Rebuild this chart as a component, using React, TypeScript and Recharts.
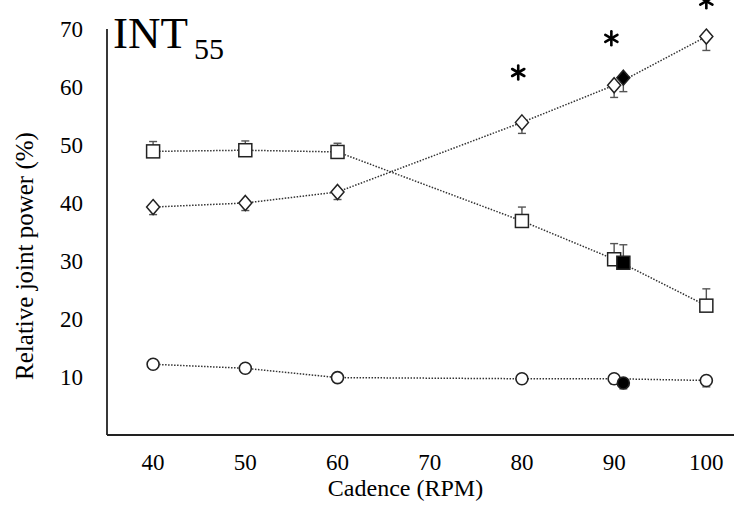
import { ErrorBar, Line, LineChart, ReferenceDot, XAxis, YAxis } from 'recharts';

const cadence = [40, 50, 60, 80, 90, 100];
const squareValues = [48.9, 49.1, 48.8, 36.9, 30.3, 22.3];
const squareErr = [1.7, 1.6, 1.5, 2.4, 2.7, 2.9];
const diamondValues = [39.3, 40.0, 41.9, 53.9, 60.3, 68.7];
const diamondErr = [1.3, 1.3, 1.3, 1.9, 2.1, 2.4];
const circleValues = [12.2, 11.5, 9.9, 9.7, 9.7, 9.4];
const circleErr = [0.8, 0.8, 0.8, 0.8, 0.9, 1.1];

// filled markers (second condition), all at 91 rpm
const filledCadence = 91;
const filledSquare = { value: 29.7, err: 3.1 };
const filledDiamond = { value: 61.6, err: 2.4 };
const filledCircle = { value: 8.96, err: 1.0 };

// significance marks
const starCadence = [79.6, 89.7, 100];
const starValues = [62.5, 68.4, 74.8];

const xTicks = [40, 50, 60, 70, 80, 90, 100];
const yTicks = [10, 20, 30, 40, 50, 60, 70];

const FONT = '"Liberation Serif", "Times New Roman", serif';
const INK = '#222';
const serif = { fontFamily: FONT };

const rows = (values: number[], errs: number[], up: boolean) =>
  cadence.map((c, i) => ({
    cadence: c,
    value: values[i],
    err: up ? [0, errs[i]] : [errs[i], 0],
  }));

const single = (p: { value: number; err: number }, up: boolean) => [
  { cadence: filledCadence, value: p.value, err: up ? [0, p.err] : [p.err, 0] },
];

const squareData = rows(squareValues, squareErr, true);
const diamondData = rows(diamondValues, diamondErr, false);
const circleData = rows(circleValues, circleErr, false);

const squareDot = (fill: string) => (p: any) => (
  <rect
    key={`sq-${fill}-${p.index}`}
    x={p.cx - 6.5}
    y={p.cy - 6.5}
    width={13}
    height={13}
    fill={fill}
    stroke={INK}
    strokeWidth={1.5}
  />
);

const diamondDot = (fill: string) => (p: any) => (
  <polygon
    key={`di-${fill}-${p.index}`}
    points={`${p.cx},${p.cy - 7.5} ${p.cx + 6.5},${p.cy} ${p.cx},${p.cy + 7.5} ${p.cx - 6.5},${p.cy}`}
    fill={fill}
    stroke={INK}
    strokeWidth={1.5}
  />
);

const circleDot = (fill: string) => (p: any) => (
  <circle key={`ci-${fill}-${p.index}`} cx={p.cx} cy={p.cy} r={6} fill={fill} stroke={INK} strokeWidth={1.6} />
);

const Star = (p: any) => {
  const r = 7;
  const arms = [90, 30, 150].map((a) => {
    const t = (a * Math.PI) / 180;
    return (
      <line
        key={a}
        x1={p.cx - r * Math.cos(t)}
        y1={p.cy - r * Math.sin(t)}
        x2={p.cx + r * Math.cos(t)}
        y2={p.cy + r * Math.sin(t)}
        stroke="#000"
        strokeWidth={2.6}
        strokeLinecap="round"
      />
    );
  });
  return <g>{arms}</g>;
};

const XTick = ({ x, y, payload }: any) => (
  <text x={x} y={y} dy={15.5} textAnchor="middle" fill="#000" style={{ ...serif, fontSize: 23 }}>
    {payload.value}
  </text>
);

const YTick = ({ x, y, payload }: any) => (
  <text x={x} y={y} dy={8} textAnchor="end" fill="#000" style={{ ...serif, fontSize: 23 }}>
    {payload.value}
  </text>
);

const YTitle = ({ viewBox }: any) => {
  const x = viewBox.x + 33;
  const y = viewBox.y + viewBox.height / 2 + 24;
  return (
    <text
      x={x}
      y={y}
      transform={`rotate(-90, ${x}, ${y})`}
      textAnchor="middle"
      fill="#000"
      style={{ ...serif, fontSize: 25 }}
    >
      Relative joint power (%)
    </text>
  );
};

const XTitle = ({ viewBox }: any) => (
  <text
    x={viewBox.x + viewBox.width / 2 - 15}
    y={viewBox.y + 61}
    textAnchor="middle"
    fill="#000"
    style={{ ...serif, fontSize: 24 }}
  >
    Cadence (RPM)
  </text>
);

const errBar = (
  <ErrorBar dataKey="err" direction="y" width={4} stroke="#555" strokeWidth={1.4} />
);

const lineStyle = {
  stroke: '#333',
  strokeWidth: 1.5,
  strokeDasharray: '1.5 1.5',
};

export default function App() {
  return (
    <div style={{ position: 'absolute', left: 0, top: 0, width: 734, height: 512, background: '#fff', ...serif }}>
      <LineChart width={734} height={512} margin={{ top: 29, right: 0, bottom: 0, left: 0 }}>
        <XAxis
          type="number"
          dataKey="cadence"
          domain={[35, 103]}
          ticks={xTicks}
          allowDuplicatedCategory={false}
          height={77}
          tickLine={false}
          tickSize={0}
          tickMargin={19}
          axisLine={{ stroke: INK, strokeWidth: 1.8 }}
          tick={<XTick />}
          label={<XTitle />}
        />
        <YAxis
          type="number"
          domain={[0, 70]}
          ticks={yTicks}
          width={107}
          tickLine={false}
          tickSize={0}
          tickMargin={24}
          axisLine={{ stroke: INK, strokeWidth: 1.8 }}
          tick={<YTick />}
          label={<YTitle />}
        />
        <Line
          data={circleData}
          dataKey="value"
          {...lineStyle}
          dot={circleDot('#fff')}
          activeDot={false}
          isAnimationActive={false}
        >
          {errBar}
        </Line>
        <Line
          data={diamondData}
          dataKey="value"
          {...lineStyle}
          dot={diamondDot('#fff')}
          activeDot={false}
          isAnimationActive={false}
        >
          {errBar}
        </Line>
        <Line
          data={squareData}
          dataKey="value"
          {...lineStyle}
          dot={squareDot('#fff')}
          activeDot={false}
          isAnimationActive={false}
        >
          {errBar}
        </Line>
        <Line
          data={single(filledCircle, false)}
          dataKey="value"
          stroke="none"
          dot={circleDot('#000')}
          activeDot={false}
          isAnimationActive={false}
        >
          {errBar}
        </Line>
        <Line
          data={single(filledDiamond, false)}
          dataKey="value"
          stroke="none"
          dot={diamondDot('#000')}
          activeDot={false}
          isAnimationActive={false}
        >
          {errBar}
        </Line>
        <Line
          data={single(filledSquare, true)}
          dataKey="value"
          stroke="none"
          dot={squareDot('#000')}
          activeDot={false}
          isAnimationActive={false}
        >
          {errBar}
        </Line>
        {starCadence.map((c, i) => (
          <ReferenceDot key={c} x={c} y={starValues[i]} r={7} ifOverflow="visible" shape={Star} />
        ))}
      </LineChart>
      <svg width={734} height={512} style={{ position: 'absolute', left: 0, top: 0, pointerEvents: 'none' }}>
        <text x={113} y={48} fill="#000" style={{ ...serif, fontSize: 45 }}>
          INT
          <tspan x={194} y={59} style={{ fontSize: 30 }}>
            55
          </tspan>
        </text>
      </svg>
    </div>
  );
}
